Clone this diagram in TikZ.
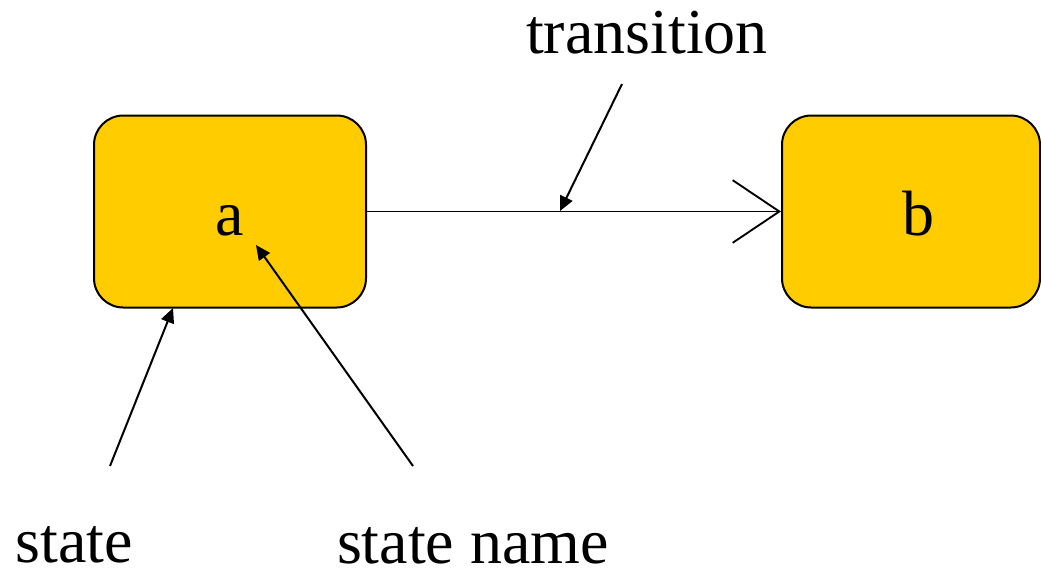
\documentclass[tikz,border=0pt]{standalone}
\usepackage{fontspec}
\setmainfont{Liberation Serif}
\usetikzlibrary{arrows.meta}
\definecolor{stategold}{RGB}{255,204,0}
\begin{document}
\begin{tikzpicture}[x=0.75pt,y=-0.75pt,
  statebox/.style={draw=black,line width=1.5pt,fill=stategold,rounded corners=22pt,minimum width=204pt,minimum height=144pt,inner sep=0pt},
  bigtext/.style={font=\fontsize{48}{56}\selectfont,inner sep=0pt,anchor=base},
  pointer/.style={line width=1.5pt,-{Triangle[length=11pt,width=10pt]}},
  trans/.style={line width=1.4pt,-{Straight Barb[length=35pt,width=47pt,line width=1.4pt]}}]
\useasboundingbox (0,0) rectangle (1041,576);
\node[statebox] (a) at (230,211.5) {};
\node[statebox,minimum width=193.5pt] (b) at (911,211.5) {};
\node[bigtext] (alabel) at (230,235) {a};
\node[bigtext] (blabel) at (918,235) {b};
\draw[trans] (a.east) -- (b.west);
\node[bigtext] (transition) at (647,53) {transition};
\node[bigtext] (state) at (74,562) {state};
\node[bigtext] (statename) at (473,563) {state name};
\coordinate (t1) at (622,84);
\coordinate (t2) at (560,211);
\coordinate (s1) at (110,466);
\coordinate (s2) at (173,308);
\coordinate (n1) at (413,466);
\coordinate (n2) at (256,245);
\draw[pointer] (t1) -- (t2);
\draw[pointer] (s1) -- (s2);
\draw[pointer] (n1) -- (n2);
\end{tikzpicture}
\end{document}
